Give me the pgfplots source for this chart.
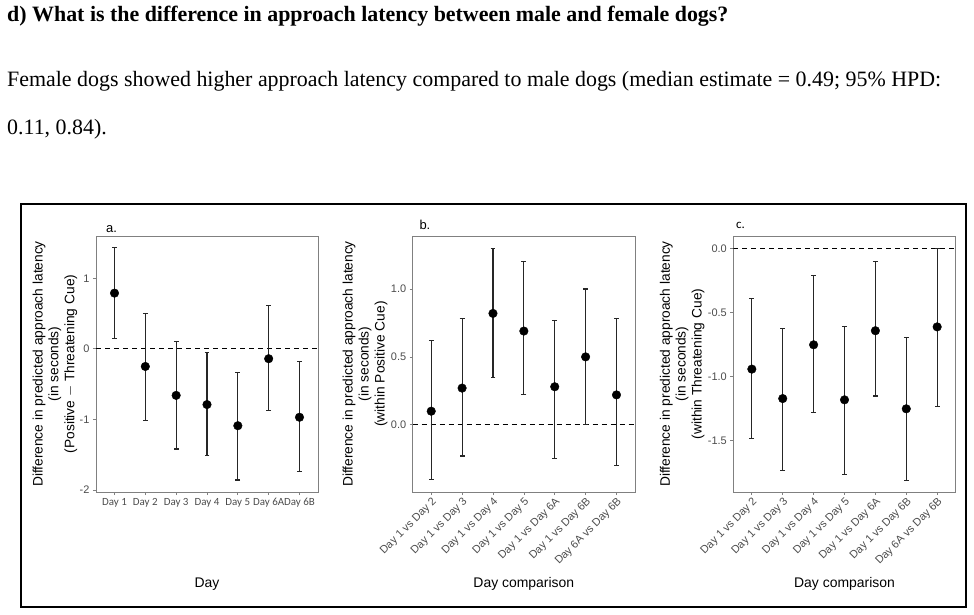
\documentclass[border=0pt]{standalone}
\usepackage{fontspec}
\setmainfont{Liberation Serif}
\newfontfamily\arial{Liberation Sans}
\newfontfamily\calibri{Carlito}
\usepackage{pgfplots}
\pgfplotsset{compat=1.18}
\usepackage{pgfplotstable}

% Posterior medians with 95% HPD limits
\pgfplotstableread{
x y lo hi
1 0.79 0.15 1.44
2 -0.25 -1.01 0.50
3 -0.66 -1.42 0.10
4 -0.79 -1.51 -0.05
5 -1.09 -1.86 -0.33
6 -0.14 -0.88 0.61
7 -0.97 -1.74 -0.18
}\dayA
\pgfplotstableread{
x y lo hi
1 0.10 -0.40 0.62
2 0.27 -0.23 0.78
3 0.82 0.35 1.30
4 0.69 0.22 1.20
5 0.28 -0.25 0.77
6 0.50 0.00 1.00
7 0.22 -0.30 0.78
}\dayB
\pgfplotstableread{
x y lo hi
1 -0.94 -1.48 -0.39
2 -1.17 -1.73 -0.62
3 -0.75 -1.28 -0.21
4 -1.18 -1.76 -0.61
5 -0.64 -1.15 -0.10
6 -1.25 -1.81 -0.69
7 -0.61 -1.23 0.00
}\dayC

\pgfplotsset{
  panel/.style={
    scale only axis, width=222bp, height=256bp, anchor=south west,
    xmin=0.4, xmax=7.6, xtick={1,...,7},
    axis line style={draw=black!50, line width=0.7bp},
    every tick/.append style={draw=black!50, line width=0.7bp},
    tick align=outside, major tick length=3bp,
    tick pos=left,
    ticklabel style={text=black!70},
    yticklabel style={font=\arial\fontsize{11}{13}\selectfont},
    ylabel style={font=\arial\fontsize{13.8}{16}\selectfont, align=center, anchor=center},
    xlabel style={font=\arial\fontsize{14}{16}\selectfont, at={(axis description cs:0.5,-0.359)}, anchor=center},
  },
  rotlabels/.style={
    xticklabel style={rotate=45, anchor=north east, inner sep=1bp, font=\arial\fontsize{11}{13}\selectfont},
    xticklabels={Day 1 vs Day 2, Day 1 vs Day 3, Day 1 vs Day 4, Day 1 vs Day 5, Day 1 vs Day 6A, Day 1 vs Day 6B, Day 6A vs Day 6B},
  },
  errpts/.style={only marks, mark=*, mark size=4.3bp, black,
    error bars/y dir=both, error bars/y explicit,
    error bars/error bar style={line width=1.1bp, black!85},
    error bars/error mark options={line width=1.1bp, mark size=2.4bp, black!85, rotate=90}},
  zero/.style={black, dash pattern=on 5bp off 4bp, line width=0.8bp, forget plot},
}

\begin{document}
\begin{tikzpicture}
\useasboundingbox (0bp,0bp) rectangle (974bp,615bp);

% Heading and text
\node[anchor=base west, inner sep=0] at (7bp,593.3bp) {\fontsize{22}{26}\selectfont\bfseries d) What is the difference in approach latency between male and female dogs?};
\node[anchor=base west, inner sep=0] at (7bp,528.3bp) {\fontsize{22}{26}\selectfont Female dogs showed higher approach latency compared to male dogs (median estimate = 0.49; 95\% HPD:};
\node[anchor=base west, inner sep=0] at (7bp,480bp) {\fontsize{22}{26}\selectfont 0.11, 0.84).};

% Figure frame
\draw[line width=2bp] (21bp,7.5bp) rectangle (966bp,411bp);

% a. Positive - Threatening cue
\begin{axis}[panel, at={(96bp,123bp)},
  ymin=-2.03, ymax=1.60, ytick={-2,-1,0,1}, yticklabels={-2,-1,0,1},
  xticklabels={Day 1, Day 2, Day 3, Day 4, Day 5, Day 6A, Day 6B},
  xticklabel style={font=\calibri\fontsize{11}{13}\selectfont},
  ylabel={Difference in predicted approach latency\\(in seconds)\\(Positive $-$ Threatening Cue)},
  ylabel style={at={(axis description cs:-0.185,0.5)}},
  xlabel={Day}]
\addplot[zero] coordinates {(0.4,0) (7.6,0)};
\addplot[errpts] table[x=x, y=y, y error plus expr=\thisrow{hi}-\thisrow{y}, y error minus expr=\thisrow{y}-\thisrow{lo}] {\dayA};
\end{axis}

% b. Within positive cue
\begin{axis}[panel, rotlabels, at={(412.7bp,123bp)}, width=222.3bp,
  ymin=-0.495, ymax=1.39, ytick={0,0.5,1}, yticklabels={0.0,0.5,1.0},
  ylabel={Difference in predicted approach latency\\(in seconds)\\(within Positive Cue)},
  ylabel style={at={(axis description cs:-0.214,0.5)}},
  xlabel={Day comparison}]
\addplot[zero] coordinates {(0.4,0) (7.6,0)};
\addplot[errpts] table[x=x, y=y, y error plus expr=\thisrow{hi}-\thisrow{y}, y error minus expr=\thisrow{y}-\thisrow{lo}] {\dayB};
\end{axis}

% c. Within threatening cue
\begin{axis}[panel, rotlabels, at={(733.3bp,123bp)}, width=222.4bp,
  ymin=-1.90, ymax=0.10, ytick={-1.5,-1,-0.5,0}, yticklabels={-1.5,-1.0,-0.5,0.0},
  ylabel={Difference in predicted approach latency\\(in seconds)\\(within Threatening Cue)},
  ylabel style={at={(axis description cs:-0.23,0.5)}},
  xlabel={Day comparison}]
\addplot[zero] coordinates {(0.4,0) (7.6,0)};
\addplot[errpts] table[x=x, y=y, y error plus expr=\thisrow{hi}-\thisrow{y}, y error minus expr=\thisrow{y}-\thisrow{lo}] {\dayC};
\end{axis}

% Panel letters
\node[anchor=base west, inner sep=0, font=\arial\fontsize{13}{15}\selectfont] at (106bp,382.7bp) {a.};
\node[anchor=base west, inner sep=0, font=\arial\fontsize{13}{15}\selectfont] at (419.3bp,385bp) {b.};
\node[anchor=base west, inner sep=0, font=\calibri\fontsize{13}{15}\selectfont] at (736bp,386.7bp) {c.};
\end{tikzpicture}
\end{document}
